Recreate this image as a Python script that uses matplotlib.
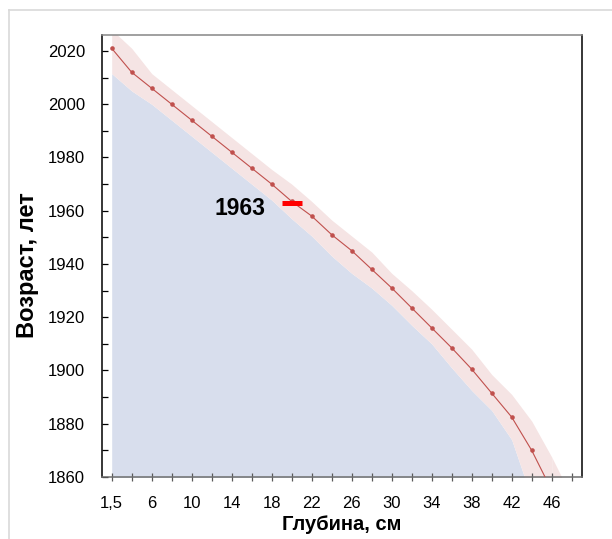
import numpy as np
import matplotlib
matplotlib.use('Agg')
import matplotlib.pyplot as plt
from matplotlib.lines import Line2D


# =========================
# данные (читаются с картинки)
# =========================
depth_labels = ['1,5', '4', '6', '8', '10', '12', '14', '16', '18', '20', '22', '24',
                '26', '28', '30', '32', '34', '36', '38', '40', '42', '44', '46', '48']

age = [2021, 2012, 2006, 2000, 1994, 1988, 1982, 1976, 1970, 1963.5, 1958, 1951,
       1945, 1938, 1931, 1923.5, 1916, 1908.5, 1900.5, 1891.5, 1882.5, 1870, 1855]

age_lower = [2011.5, 2005, 2000, 1994, 1988, 1982, 1976, 1970, 1964, 1957, 1950.5, 1943,
             1936.5, 1931, 1924.5, 1917, 1910, 1901, 1892.5, 1885, 1874, 1852, 1830]

age_upper = [2028, 2021, 2011.5, 2005.5, 1999.5, 1993.5, 1987.5, 1981.5, 1975.5, 1970,
             1963.5, 1956.5, 1950.5, 1944.5, 1936.5, 1930, 1923, 1915.5, 1908, 1898.5,
             1891, 1881, 1867.5, 1852.5]

marker_year = 1963
marker_depth_idx = 9

y_min, y_max = 1860, 2026


# =========================
# стиль
# =========================
plt.rcParams['font.family'] = ['Liberation Sans', 'DejaVu Sans']

fig = plt.figure(figsize=(6.12, 5.39), dpi=100)
ax = fig.add_axes([101.7 / 612, 1 - 477 / 539, 480 / 612, 442 / 539])

x_line = np.arange(len(age))
x_band = np.arange(len(age_lower))
x_up = np.arange(len(age_upper))

# синяя область снизу до нижней границы
ax.fill_between(x_band, y_min - 50, age_lower, color='#D8DEED', lw=0, zorder=1)

# розовая полоса неопределённости
upper_for_band = age_upper[:len(age_lower)]
ax.fill_between(x_band, age_lower, upper_for_band, color='#F5E4E4', lw=0, zorder=1)
ax.fill_between(x_up[len(age_lower) - 1:], y_min - 50, age_upper[len(age_lower) - 1:],
                color='#F5E4E4', lw=0, zorder=1)

# линия модели
ax.plot(x_line, age, color='#C0504D', lw=0.8, marker='o', markersize=3.3,
        markeredgewidth=0, zorder=3)

# маркер 1963
ax.plot([marker_depth_idx - 0.5, marker_depth_idx + 0.53], [marker_year, marker_year],
        color='#FF0000', lw=3.6, solid_capstyle='butt', zorder=4)
ax.text(6.42, 1961, str(marker_year), ha='center', va='center',
        fontsize=16.5, fontweight='bold', zorder=5)

# оси
ax.set_xlim(-0.5, len(depth_labels) - 0.5)
ax.set_ylim(y_min, y_max)

ax.set_xticks(np.arange(len(depth_labels)))
ax.set_xticklabels([lab if i % 2 == 0 else '' for i, lab in enumerate(depth_labels)])
ax.tick_params(axis='x', direction='inout', length=6, width=0.9, color='#595959',
               pad=11, labelsize=12)

ax.set_yticks(np.arange(1860, 2021, 10))
ax.set_yticklabels([str(v) if v % 20 == 0 else '' for v in range(1860, 2021, 10)])
ax.tick_params(axis='y', direction='in', length=4, width=0.9, color='black',
               pad=12, labelsize=12)

ax.spines['left'].set_color('black')
ax.spines['right'].set_color('black')
ax.spines['top'].set_color('#868686')
ax.spines['bottom'].set_color('#6E6E6E')
for s in ax.spines.values():
    s.set_linewidth(1.1)

ax.set_xlabel('Глубина, см', fontsize=14.5, fontweight='bold')
ax.xaxis.set_label_coords(0.5, -(524 - 477) / 442, transform=ax.transAxes)
ax.xaxis.label.set_va('center')
ax.set_ylabel('Возраст, лет', fontsize=17, fontweight='bold')
ax.yaxis.set_label_coords((28 - 101.7) / 480, (477 - 265) / 442, transform=ax.transAxes)
ax.yaxis.label.set_va('center')

# рамка диаграммы
fig.add_artist(Line2D([9 / 612, 1], [1 - 9.5 / 539, 1 - 9.5 / 539], color='#D9D9D9', lw=1.2))
fig.add_artist(Line2D([9 / 612, 9 / 612], [0, 1 - 9.5 / 539], color='#D9D9D9', lw=1.2))

fig.savefig('out.png', dpi=100)
